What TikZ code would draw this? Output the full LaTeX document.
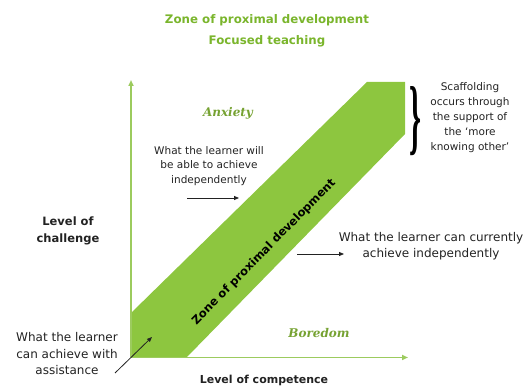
\documentclass[tikz,border=0pt]{standalone}
\usepackage{fontspec}
\usepackage{graphicx}
\setmainfont{DejaVu Sans}
\newfontfamily\serifbi{DejaVu Serif}
\newfontfamily\braceserif{Liberation Serif}
\usetikzlibrary{arrows.meta}
\definecolor{bandgreen}{HTML}{8DC63F}
\definecolor{axisgreen}{HTML}{9CCB5E}
\definecolor{titlegreen}{HTML}{7AB52C}
\definecolor{wordgreen}{HTML}{76A232}
\definecolor{txtgray}{HTML}{222222}
\tikzset{
  axisline/.style={draw=axisgreen, line width=1.6pt, -{Triangle[width=5pt,length=6pt]}},
  pointer/.style={draw=txtgray, line width=0.8pt, -{Triangle[width=4pt,length=5pt]}},
  bodytext/.style={text=txtgray, align=center, inner sep=0pt},
  moodword/.style={text=wordgreen, font=\serifbi\bfseries\itshape\fontsize{12}{14}\selectfont, inner sep=0pt},
  titletext/.style={text=titlegreen, font=\bfseries\fontsize{11.8}{14}\selectfont, inner sep=0pt},
}
\begin{document}
\begin{tikzpicture}[x=1pt,y=-1pt]
\useasboundingbox (0,0) rectangle (531,387);
% band
\fill[bandgreen] (131,313) -- (367,82) -- (405,82) -- (405,134) -- (187,357) -- (131,357) -- cycle;
% axes
\coordinate (O) at (131,357.5);
\coordinate (ytip) at (131,80);
\coordinate (xtip) at (408,357.5);
\draw[axisline] (O) -- (ytip);
\draw[axisline] (O) -- (xtip);
% title
\node[titletext] (t1) at (267,20) {Zone of proximal development};
\node[titletext] (t2) at (267,41) {Focused teaching};
% mood words
\node[moodword] (anx) at (228,113) {Anxiety};
\node[moodword] (bor) at (319,333) {Boredom};
% band label
\node[rotate=45.5, font=\bfseries\fontsize{11.5}{13}\selectfont, inner sep=0pt] (zpd) at (264,252) {Zone of proximal development};
% upper block
\node[bodytext, font=\fontsize{10.5}{14.5}\selectfont] (will) at (209,166) {What the learner will\\be able to achieve\\independently};
\coordinate (a1s) at (187,198);
\coordinate (a1e) at (239,198);
\draw[pointer] (a1s) -- (a1e);
% right block
\node[bodytext, font=\fontsize{12}{16.5}\selectfont] (cur) at (431,246) {What the learner can currently\\achieve independently};
\coordinate (a2s) at (297,254);
\coordinate (a2e) at (344,254);
\draw[pointer] (a2s) -- (a2e);
% level of challenge
\node[bodytext, font=\bfseries\fontsize{11.5}{17}\selectfont] (chal) at (68,231) {Level of\\challenge};
% level of competence
\node[bodytext, font=\bfseries\fontsize{11}{13}\selectfont] (comp) at (264,380) {Level of competence};
% lower-left block
\node[bodytext, font=\fontsize{12}{16.5}\selectfont] (assist) at (67,354) {What the learner\\can achieve with\\assistance};
\coordinate (a3s) at (115,373);
\coordinate (a3e) at (152,337);
\draw[pointer] (a3s) -- (a3e);
% brace and scaffolding
\node[inner sep=0pt] (brace) at (415,121) {\resizebox{12pt}{58pt}{\braceserif\bfseries\}}};
\node[bodytext, font=\fontsize{10.5}{15}\selectfont] (scaf) at (470,118) {Scaffolding\\occurs through\\the support of\\the `more\\knowing other'};
\end{tikzpicture}
\end{document}
